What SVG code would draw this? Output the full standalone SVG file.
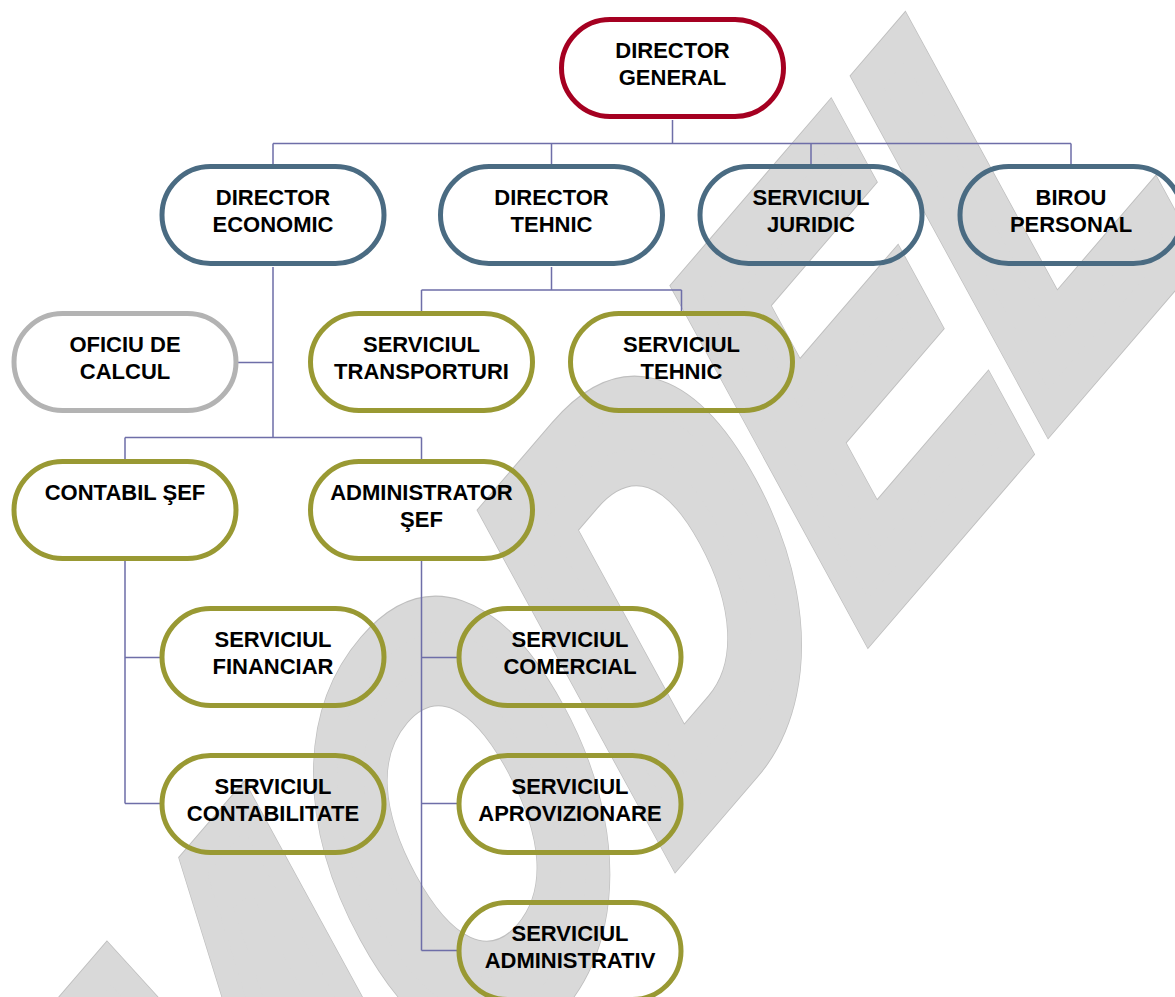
<svg xmlns="http://www.w3.org/2000/svg" width="1175" height="997" viewBox="0 0 1175 997">
<style>
.wm-o{font-family:"Liberation Sans",Arial,sans-serif;font-weight:bold;font-size:550px;fill:#bfbfbf;stroke:#bfbfbf;stroke-width:36;stroke-linejoin:miter}
.wm-i{font-family:"Liberation Sans",Arial,sans-serif;font-weight:bold;font-size:550px;fill:#d9d9d9;stroke:#d9d9d9;stroke-width:34;stroke-linejoin:miter}
.n{fill:none;stroke-width:5}
.red{stroke:#a50021}
.blue{stroke:#4a6b82}
.olive{stroke:#999933}
.gray{stroke:#b3b3b3}
.t{font-family:"Liberation Sans",Arial,sans-serif;font-weight:bold;font-size:22px;fill:#000;text-anchor:middle}
.c{fill:none;stroke:#6e6ea8;stroke-width:1.5}
</style>
<rect width="1175" height="997" fill="#fff"/>
<g id="watermark" transform="matrix(0.652 -0.759 0.479 0.878 677 870)">
<g transform="scale(0.745 1)">
<text class="wm-o" x="-922 -452 -24 373 744" y="-17">MODEL</text>
<text class="wm-i" x="-922 -452 -24 373 744" y="-17">MODEL</text>
</g>
</g>
<g id="connectors">
<path class="c" d="M672.5,120V143.5M273,143.5H1071M273,143.5V164M551.5,143.5V164M811,143.5V164M1071,143.5V164M273,267V437.5M237,362.5H273M125,437.5H421.5M125,437.5V459M421.5,437.5V459M551.5,267V290M421.5,290H681.5M421.5,290V311M681.5,290V311M125,561V803.5M125,657.5H160M125,803.5H160M421.5,561V950.5M421.5,657.5H457M421.5,803.5H457M421.5,950.5H457"/>
</g>
<g id="director-general"><rect class="n red" x="561.5" y="19.5" width="222" height="97" rx="48.5"/><text class="t" x="672.5" y="57.5">DIRECTOR</text><text class="t" x="672.5" y="84.5">GENERAL</text></g>
<g id="director-economic"><rect class="n blue" x="162" y="166.5" width="222" height="97" rx="48.5"/><text class="t" x="273" y="204.5">DIRECTOR</text><text class="t" x="273" y="231.5">ECONOMIC</text></g>
<g id="director-tehnic"><rect class="n blue" x="440.5" y="166.5" width="222" height="97" rx="48.5"/><text class="t" x="551.5" y="204.5">DIRECTOR</text><text class="t" x="551.5" y="231.5">TEHNIC</text></g>
<g id="serviciul-juridic"><rect class="n blue" x="700" y="166.5" width="222" height="97" rx="48.5"/><text class="t" x="811" y="204.5">SERVICIUL</text><text class="t" x="811" y="231.5">JURIDIC</text></g>
<g id="birou-personal"><rect class="n blue" x="960" y="166.5" width="222" height="97" rx="48.5"/><text class="t" x="1071" y="204.5">BIROU</text><text class="t" x="1071" y="231.5">PERSONAL</text></g>
<g id="oficiu-de-calcul"><rect class="n gray" x="14" y="313.5" width="222" height="97" rx="48.5"/><text class="t" x="125" y="351.5">OFICIU DE</text><text class="t" x="125" y="378.5">CALCUL</text></g>
<g id="serviciul-transporturi"><rect class="n olive" x="310.5" y="313.5" width="222" height="97" rx="48.5"/><text class="t" x="421.5" y="351.5">SERVICIUL</text><text class="t" x="421.5" y="378.5">TRANSPORTURI</text></g>
<g id="serviciul-tehnic"><rect class="n olive" x="570.5" y="313.5" width="222" height="97" rx="48.5"/><text class="t" x="681.5" y="351.5">SERVICIUL</text><text class="t" x="681.5" y="378.5">TEHNIC</text></g>
<g id="contabil-sef"><rect class="n olive" x="14" y="461.5" width="222" height="97" rx="48.5"/><text class="t" x="125" y="499.5">CONTABIL ŞEF</text></g>
<g id="administrator-sef"><rect class="n olive" x="310.5" y="461.5" width="222" height="97" rx="48.5"/><text class="t" x="421.5" y="499.5">ADMINISTRATOR</text><text class="t" x="421.5" y="526.5">ŞEF</text></g>
<g id="serviciul-financiar"><rect class="n olive" x="162" y="608.5" width="222" height="97" rx="48.5"/><text class="t" x="273" y="646.5">SERVICIUL</text><text class="t" x="273" y="673.5">FINANCIAR</text></g>
<g id="serviciul-comercial"><rect class="n olive" x="459" y="608.5" width="222" height="97" rx="48.5"/><text class="t" x="570" y="646.5">SERVICIUL</text><text class="t" x="570" y="673.5">COMERCIAL</text></g>
<g id="serviciul-contabilitate"><rect class="n olive" x="162" y="755.5" width="222" height="97" rx="48.5"/><text class="t" x="273" y="793.5">SERVICIUL</text><text class="t" x="273" y="820.5">CONTABILITATE</text></g>
<g id="serviciul-aprovizionare"><rect class="n olive" x="459" y="755.5" width="222" height="97" rx="48.5"/><text class="t" x="570" y="793.5">SERVICIUL</text><text class="t" x="570" y="820.5">APROVIZIONARE</text></g>
<g id="serviciul-administrativ"><rect class="n olive" x="459" y="902.5" width="222" height="97" rx="48.5"/><text class="t" x="570" y="940.5">SERVICIUL</text><text class="t" x="570" y="967.5">ADMINISTRATIV</text></g>
</svg>
